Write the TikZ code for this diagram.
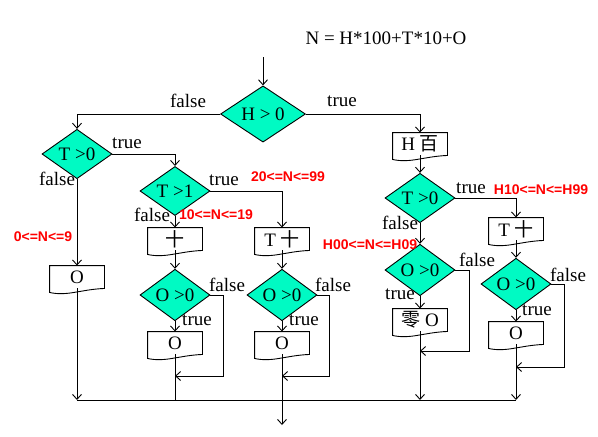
\documentclass[tikz,border=0pt]{standalone}
\usepackage{fontspec}
\setmainfont{Liberation Serif}
\newfontfamily\cjk{Noto Sans CJK SC}
\newfontfamily\redf{Liberation Sans}
\usetikzlibrary{shapes.geometric,arrows.meta,calc}
\definecolor{dfill}{RGB}{0,250,195}
\definecolor{rlab}{RGB}{255,0,0}
\tikzset{
  >={Straight Barb[length=5pt,width=9pt]},
  every path/.style={line width=0.9pt},
  dec/.style={diamond, draw, fill=dfill, inner sep=0pt, minimum width=70pt, minimum height=39pt, font=\fontsize{19}{21}\selectfont},
  docnode/.style={inner sep=0pt, minimum width=54pt, minimum height=22pt, font=\fontsize{19}{21}\selectfont},
  lab/.style={inner sep=0pt, font=\fontsize{19}{21}\selectfont},
  rng/.style={inner sep=0pt, text=rlab, font=\redf\bfseries\fontsize{14}{16}\selectfont},
}
\newcommand\docbox[1]{\draw (#1.north west) -- (#1.north east) -- (#1.south east) .. controls +(-24,1) and +(18,4) .. ($(#1.south west)+(0,4)$) -- cycle;}
\begin{document}
\begin{tikzpicture}[x=1pt,y=-1pt]
\useasboundingbox (0,0) rectangle (598,437);
\node[lab] (title) at (386,38) {N = H*100+T*10+O};
\coordinate (s0) at (263,57);
\node[dec, minimum width=85pt, minimum height=52pt] (d0) at (263,114) {H > 0};
\node[dec, minimum height=41pt] (d1) at (77,154) {T >0};
\node[dec, minimum height=40pt] (d2) at (175,191) {T >1};
\node[dec] (d3) at (175,295) {O >0};
\node[dec] (d4) at (282,295) {O >0};
\node[dec, minimum height=38pt] (d5) at (420,198) {T >0};
\node[dec, minimum height=38pt] (d6) at (420,270) {O >0};
\node[dec] (d7) at (516,284) {O >0};
% boxes
\node[docnode] (bH) at (420,144) {H {\cjk 百}};
\node[docnode] (b10) at (175,239) {{\cjk 十}};
\node[docnode] (bT10) at (282,239) {T {\cjk 十}};
\node[docnode] (bO1) at (77,277) {O};
\node[docnode] (bO2) at (175,343) {O};
\node[docnode] (bO3) at (282,343) {O};
\node[docnode] (bT10r) at (516,229) {T {\cjk 十}};
\node[docnode] (bZ) at (420,320) {{\cjk 零} O};
\node[docnode] (bO4) at (516,333) {O};
\docbox{bH}\docbox{b10}\docbox{bT10}\docbox{bO1}\docbox{bO2}\docbox{bO3}\docbox{bT10r}\docbox{bZ}\docbox{bO4}
% coordinates
\coordinate (c3) at (223,376); \coordinate (m3) at (175,376);
\coordinate (c4) at (329,376); \coordinate (m4) at (282,376);
\coordinate (c6) at (469,351); \coordinate (m6) at (420,351);
\coordinate (c7) at (564,367); \coordinate (m7) at (516,367);
\coordinate (j1) at (77,400); \coordinate (j2) at (175,400);
\coordinate (j3) at (282,400); \coordinate (j4) at (420,400);
\coordinate (j5) at (516,400); \coordinate (e0) at (282,425);
% connectors
\draw[->] (s0) -- (d0);
\draw[->] (d0.west) -| (d1.north);
\draw[->] (d0.east) -| (bH.north);
\draw[->] (d1.east) -| (d2.north);
\draw[->] (d1.south) -- (bO1.north);
\draw[->] (d2.east) -| (bT10.north);
\draw[->] (d2.south) -- (b10.north);
\draw[->] (b10.south) -- (d3.north);
\draw[->] (bT10.south) -- (d4.north);
\draw[->] (d3.south) -- (bO2.north);
\draw[->] (d4.south) -- (bO3.north);
\draw[->] (d3.east) -| (c3) -- (m3);
\draw[->] (d4.east) -| (c4) -- (m4);
\draw[->] (bO1.south) -- (j1);
\draw (bO2.south) -- (j2);
\draw (bO3.south) -- (j3);
\draw[->] (bH.south) -- (d5.north);
\draw[->] (d5.east) -| (bT10r.north);
\draw[->] (d5.south) -- (d6.north);
\draw[->] (d6.south) -- (bZ.north);
\draw[->] (d6.east) -| (c6) -- (m6);
\draw[->] (bZ.south) -- (j4);
\draw[->] (bT10r.south) -- (d7.north);
\draw[->] (d7.south) -- (bO4.north);
\draw[->] (d7.east) -| (c7) -- (m7);
\draw[->] (bO4.south) -- (j5);
\draw (j1) -- (j5);
\draw[->] (j3) -- (e0);
% labels
\node[lab] (l1) at (188,101) {false};
\node[lab] (l2) at (342,101) {true};
\node[lab] (l3) at (127,143) {true};
\node[lab] (l4) at (57,179) {false};
\node[lab] (l5) at (224,180) {true};
\node[lab] (l6) at (152,215) {false};
\node[lab] (l7) at (227,285) {false};
\node[lab] (l8) at (197,320) {true};
\node[lab] (l9) at (333,285) {false};
\node[lab] (l10) at (304,320) {true};
\node[lab] (l11) at (471,188) {true};
\node[lab] (l12) at (400,223) {false};
\node[lab] (l13) at (477,260) {false};
\node[lab] (l14) at (400,294) {true};
\node[lab] (l15) at (568,275) {false};
\node[lab] (l16) at (537,310) {true};
\node[rng] (r1) at (43,237) {0<=N<=9};
\node[rng] (r2) at (216,215) {10<=N<=19};
\node[rng] (r3) at (288,177) {20<=N<=99};
\node[rng] (r4) at (541,190) {H10<=N<=H99};
\node[rng] (r5) at (370,245) {H00<=N<=H09};
\end{tikzpicture}
\end{document}
